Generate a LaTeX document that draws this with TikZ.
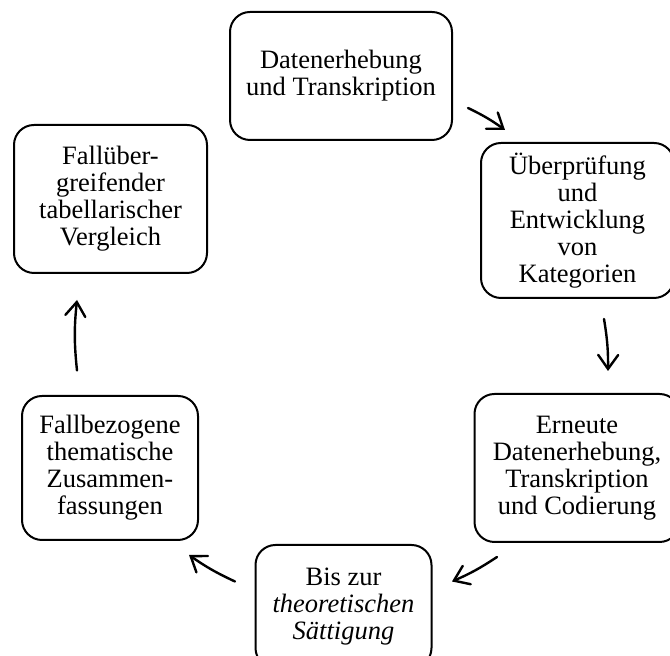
\documentclass[tikz,border=0pt]{standalone}
\usepackage{fontspec}
\setmainfont{Liberation Serif}
\usetikzlibrary{positioning,calc,arrows.meta}

\begin{document}
\begin{tikzpicture}[x=0.5pt,y=0.5pt,
    stage/.style={draw, line width=1pt, rounded corners=10pt, align=center, inner sep=0pt,
      font=\fontsize{13.25}{13.5}\selectfont},
    cyc/.style={line width=1.2pt, line cap=round, -{Straight Barb[length=7pt,width=10pt,line cap=round]}}]
    \useasboundingbox (0,0) rectangle (670,656);
    \node[stage, minimum width=111pt, minimum height=64pt] (dat) at (341,580) {Datenerhebung\\und Transkription};
    \node[stage, minimum width=96.5pt, minimum height=77.5pt] (pruef) at (577.5,435.5) {Überprüfung\\und\\Entwicklung\\von\\Kategorien};
    \node[stage, minimum width=102.5pt, minimum height=74pt] (erneut) at (577,188) {Erneute\\Datenerhebung,\\Transkription\\und Codierung};
    \node[stage, minimum width=88pt, minimum height=61.5pt] (saett) at (343.5,49.5) {Bis zur\\\textit{theoretischen}\\\textit{Sättigung}};
    \node[stage, minimum width=88pt, minimum height=72pt] (fallbez) at (110,188) {Fallbezogene\\thematische\\Zusammen-\\fassungen};
    \node[stage, minimum width=96.5pt, minimum height=74pt] (fallueb) at (110.5,457) {Fallüber-\\greifender\\tabellarischer\\Vergleich};
    % Pfeile im Kreis
    \draw[cyc] ($(dat.east)+(15,-32)$) to[bend left=5] ($(pruef.north west)+(25,12)$);
    \draw[cyc] ($(pruef.south)+(26.5,-20)$) to[bend left=5] ($(erneut.north)+(31,22)$);
    \draw[cyc] ($(erneut.south west)+(23.5,-14)$) to[bend left=5] ($(saett.east)+(19.5,25)$);
    \draw[cyc] ($(saett.west)+(-19.5,25)$) to[bend left=5] ($(fallbez.south east)+(-10,-14)$);
    \draw[cyc] ($(fallbez.north)+(-33,24.5)$) to[bend left=6] ($(fallueb.south)+(-33.5,-26)$);
  \end{tikzpicture}
\end{document}
